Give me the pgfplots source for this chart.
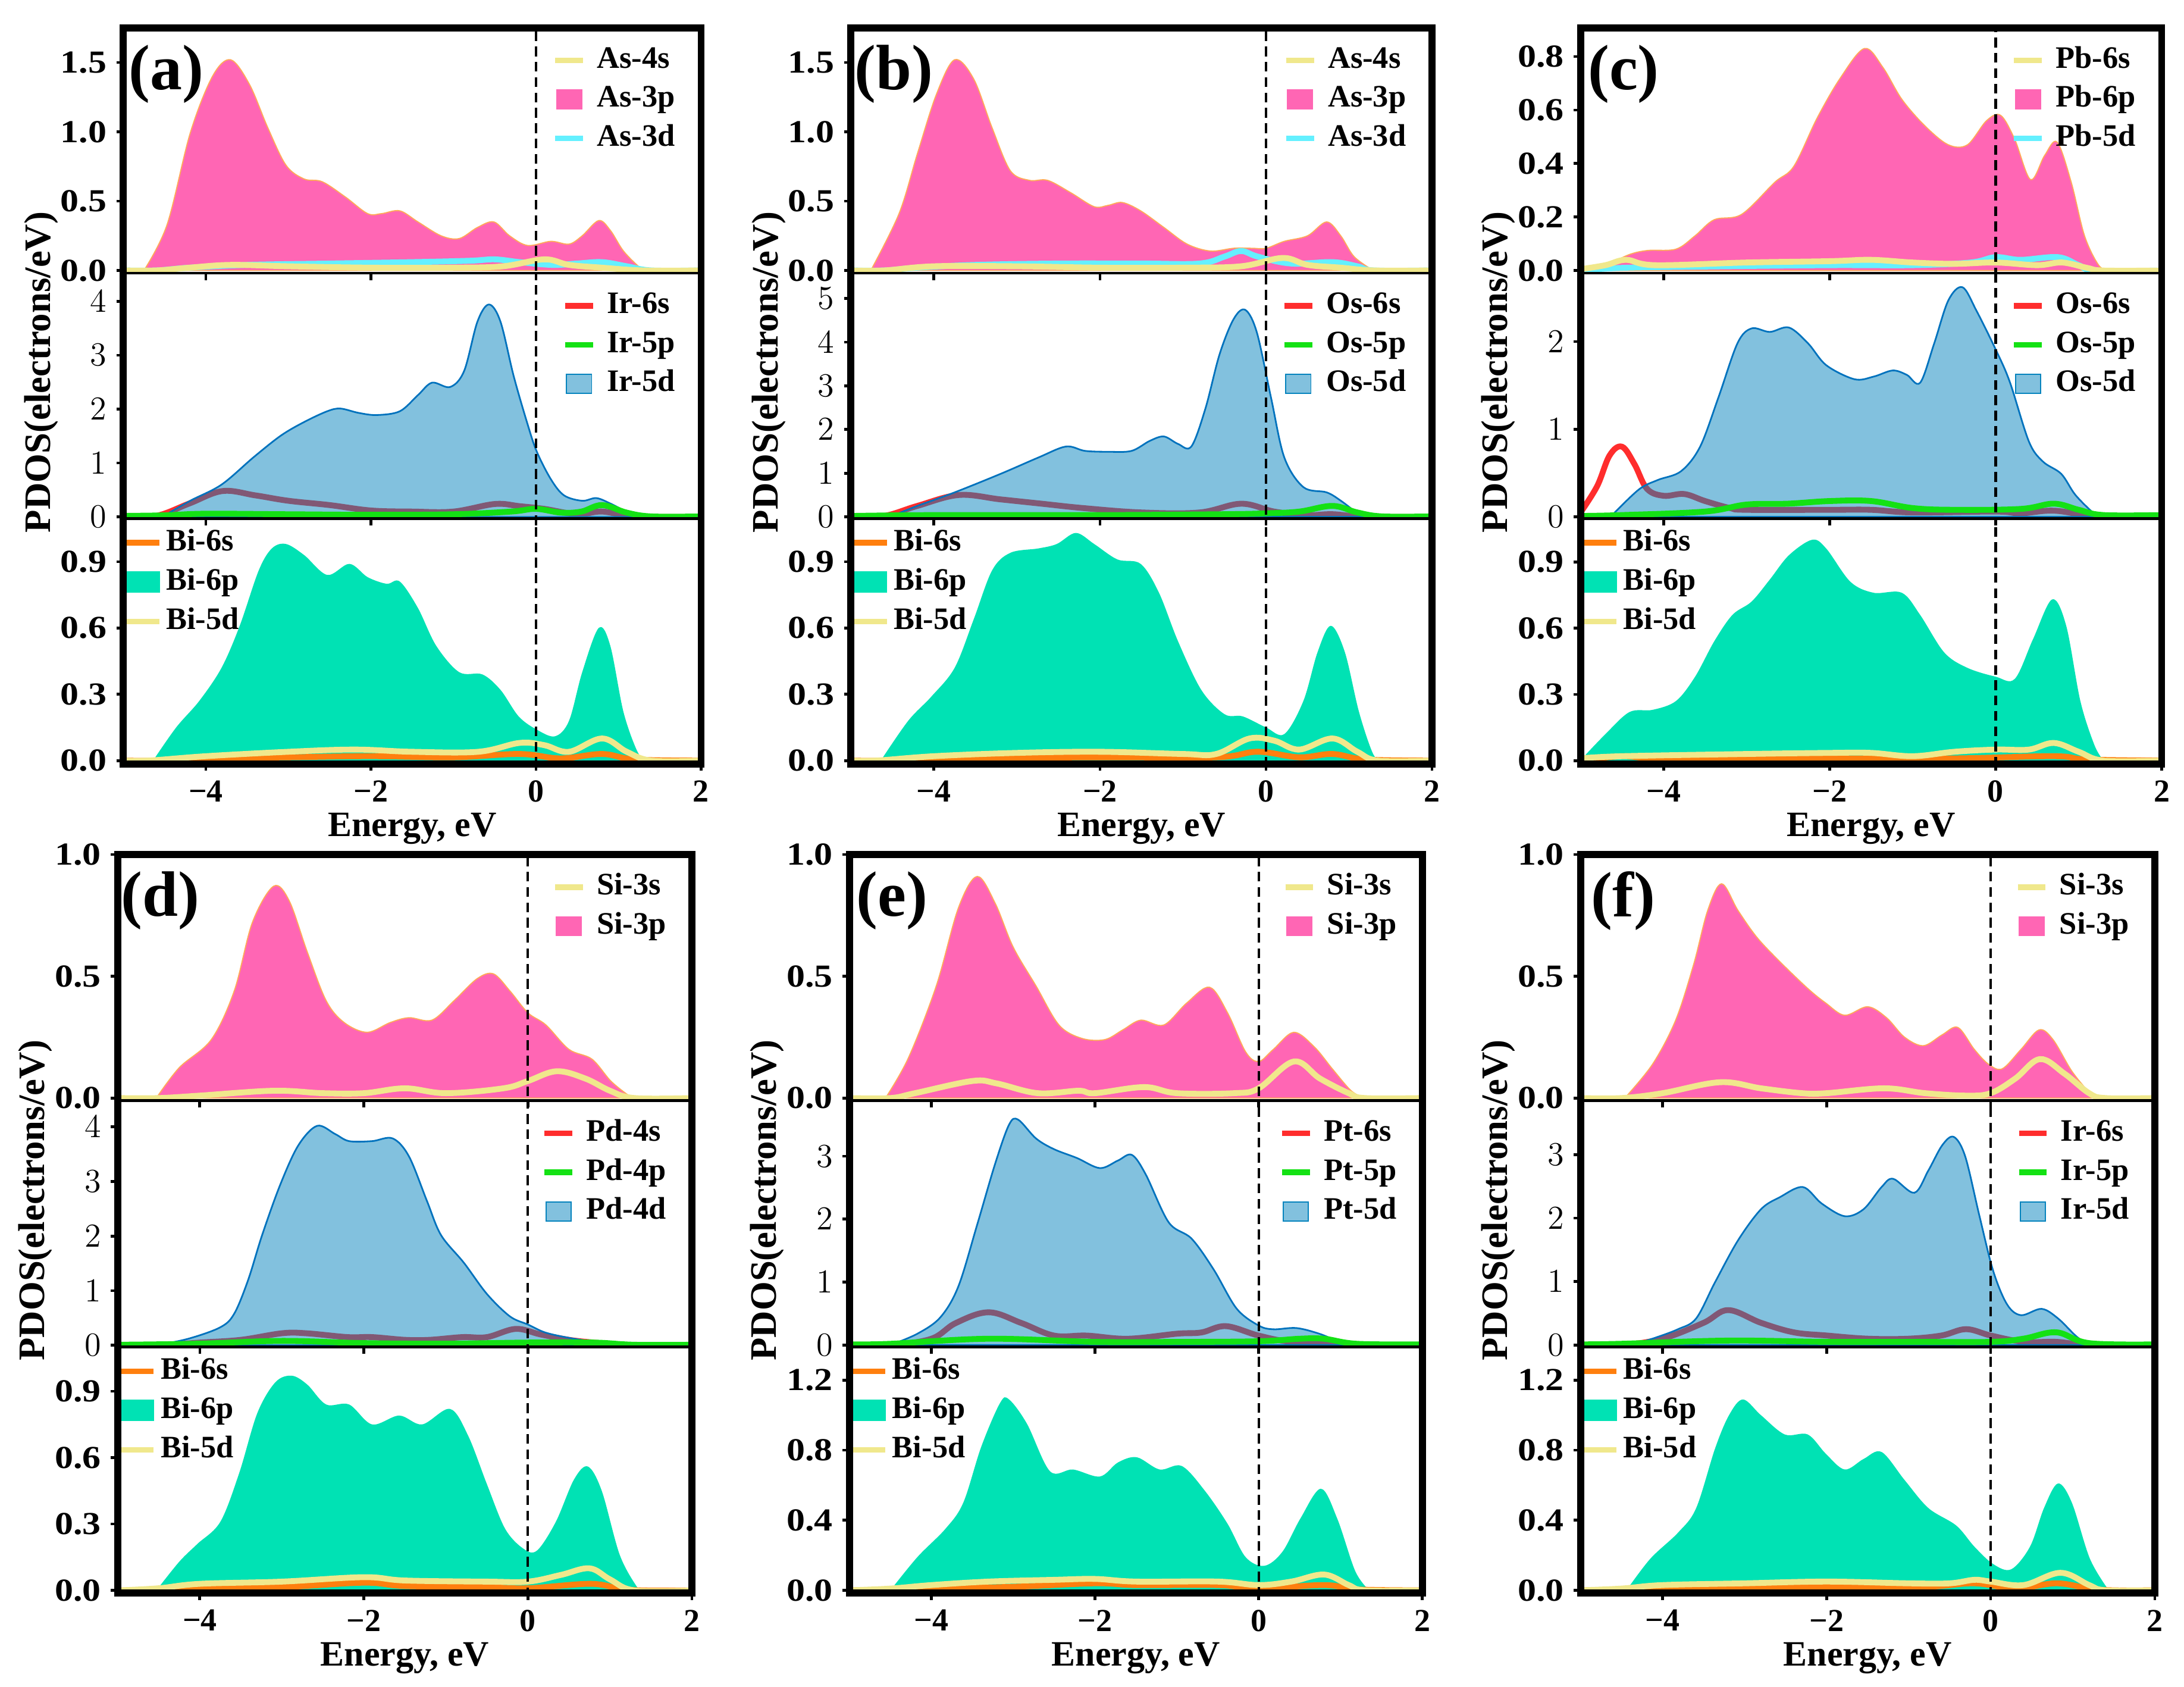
\documentclass[border=0pt]{standalone}
\usepackage{pgfplots}
\pgfplotsset{compat=1.18}
\usepackage{fontspec}
\setmainfont{Liberation Serif}
\newfontfamily\ytickfam{Liberation Serif}[FakeStretch=1.15]
\definecolor{cpink}{RGB}{255,102,180}
\definecolor{cpinkedge}{RGB}{255,170,90}
\definecolor{cblue}{RGB}{5,131,189}
\definecolor{cblueedge}{RGB}{0,114,189}
\definecolor{cgreenfill}{RGB}{0,226,180}
\definecolor{cyel}{RGB}{240,232,140}
\definecolor{ccyan}{RGB}{100,240,255}
\definecolor{cred}{RGB}{255,45,45}
\definecolor{cgrn}{RGB}{20,225,20}
\definecolor{corange}{RGB}{255,127,14}
\newcommand\tickfont{\bfseries\fontsize{11.5}{12}\selectfont}
\newcommand\ytickfont{\ytickfam\bfseries\fontsize{11.5}{12}\selectfont}
\newcommand\labfont{\bfseries\fontsize{13.4}{14}\selectfont}
\newcommand\xlabfont{\bfseries\fontsize{12.8}{13}\selectfont}
\newcommand\legfont{\bfseries\fontsize{11.2}{11.5}\selectfont}
\newcommand\panelfont{\bfseries\fontsize{23}{24}\selectfont}
\pgfplotsset{
 base/.style={scale only axis, xmin=-5, xmax=2, xtick={-4,-2,0,2}, xticklabels={},
   axis line style={line width=1pt}, major tick style={line width=1pt, black},
   major tick length=2.5pt, tick align=outside, xtick pos=bottom, ytick pos=left,
   xticklabel style={font=\tickfont}, yticklabel style={font=\ytickfont, inner sep=0.5pt, xshift=-2.8pt},
   axis on top, legend cell align=left},
 bottomax/.style={xticklabels={−4,−2,0,2}, xlabel={Energy, eV}, xlabel style={font=\xlabfont, yshift=3pt}},
 legline/.style={legend image code/.code={\draw[#1,line width=2pt] (0pt,0pt) -- (10pt,0pt);}},
 legarea/.style={legend image code/.code={\fill[#1] (0.5pt,-3.4pt) rectangle (9.5pt,3.4pt);}},
 leglineB/.style={legend image code/.code={\draw[#1,line width=2pt] (0pt,0pt) -- (12.5pt,0pt);}},
 legareaB/.style={legend image code/.code={\fill[#1] (0pt,-3.6pt) rectangle (12.5pt,3.6pt);}},
 legTR/.style={legend style={draw=none, fill=none, inner sep=0pt, at={(rel axis cs:0.961,0.935)}, anchor=north east, font=\legfont, row sep=2.5pt, column sep=3pt, nodes={text height=7.5pt, text depth=2pt, inner sep=1pt}}},
 legTL/.style={legend style={draw=none, fill=none, inner sep=0pt, at={(rel axis cs:-0.004,0.969)}, anchor=north west, font=\legfont, row sep=2.6pt, column sep=0.5pt, nodes={text height=7.5pt, text depth=2pt, inner sep=1pt}}},
 pinkfill/.style={fill=cpink, draw=cpinkedge, line width=0.4pt, smooth, tension=0.55, forget plot},
 bluefill/.style={fill=cblue, fill opacity=0.5, draw=cblueedge, draw opacity=1, line width=0.6pt, smooth, tension=0.55, forget plot},
 greenfill/.style={fill=cgreenfill, draw=none, smooth, tension=0.55, forget plot},
 pline/.style={line width=2.1pt, smooth, tension=0.6, forget plot},
 dashline/.style={black, line width=0.9pt, dash pattern=on 3.5pt off 2pt, forget plot},
}
\begin{document}
\begin{tikzpicture}
\useasboundingbox (0pt,0pt) rectangle (783.5pt,605pt);
%================ (a) =================
\begin{axis}[base, name=a1, at={(44.25pt,595pt)}, anchor=north west, width=207.25pt, height=88pt,
  ymin=-0.02, ymax=1.75, ytick={0,0.5,1,1.5}, yticklabels={0.0,0.5,1.0,1.5}, legTR]
\addlegendimage{legline=cyel}\addlegendentry{As-4s}
\addlegendimage{legarea=cpink}\addlegendentry{As-3p}
\addlegendimage{legline=ccyan}\addlegendentry{As-3d}
\addplot[pinkfill] coordinates {(-4.75,0) (-4.47,0.33) (-4.19,0.99) (-3.92,1.40) (-3.70,1.52) (-3.47,1.34) (-3.25,1.03) (-3.03,0.76) (-2.81,0.66) (-2.59,0.64) (-2.31,0.53) (-2.04,0.41) (-1.87,0.41) (-1.65,0.43) (-1.43,0.35) (-1.15,0.25) (-0.93,0.23) (-0.71,0.31) (-0.51,0.35) (-0.32,0.25) (-0.10,0.18) (0.18,0.21) (0.40,0.19) (0.56,0.25) (0.76,0.36) (0.90,0.29) (1.06,0.14) (1.26,0.02) (1.34,0)} \closedcycle;
\addplot[pline, ccyan] coordinates {(-5,0) (-4.6,0) (-4.2,0.02) (-3.5,0.04) (-2.5,0.05) (-1.5,0.06) (-0.8,0.07) (-0.5,0.08) (-0.2,0.06) (0.2,0.04) (0.5,0.05) (0.8,0.06) (1.1,0.03) (1.4,0) (2,0)};
\addplot[pline, cyel] coordinates {(-5,0) (-4.6,0) (-4.2,0.02) (-3.7,0.04) (-3,0.03) (-2,0.02) (-1,0.02) (-0.4,0.03) (0.1,0.08) (0.4,0.04) (0.8,0.02) (1.3,0) (2,0)};
\addplot[dashline] coordinates {(0,-1) (0,10)};
\node[font=\panelfont] at (rel axis cs:0.074,0.8125) {(a)};
\end{axis}
\begin{axis}[base, name=a2, at={(44.25pt,507pt)}, anchor=north west, width=207.25pt, height=88pt,
  ymin=-0.03, ymax=4.52, ytick={0,1,2,3,4}, legTR]
\addlegendimage{legline=cred}\addlegendentry{Ir-6s}
\addlegendimage{legline=cgrn}\addlegendentry{Ir-5p}
\addlegendimage{legarea={cblue,fill opacity=0.5}}\addlegendentry{Ir-5d}
\addplot[pline, cred] coordinates {(-5,0) (-4.6,0.02) (-4.2,0.25) (-3.8,0.48) (-3.4,0.4) (-3.0,0.3) (-2.5,0.22) (-2.0,0.12) (-1.5,0.1) (-1.0,0.1) (-0.5,0.24) (-0.2,0.2) (0.1,0.15) (0.5,0.05) (0.8,0.1) (1.2,0.01) (2,0)};
\addplot[bluefill] coordinates {(-4.53,0) (-4.19,0.30) (-3.81,0.60) (-3.42,1.11) (-3.09,1.51) (-2.81,1.76) (-2.53,1.96) (-2.37,2.01) (-2.15,1.93) (-1.93,1.89) (-1.65,1.96) (-1.43,2.26) (-1.26,2.49) (-1.04,2.41) (-0.87,2.71) (-0.71,3.62) (-0.57,3.94) (-0.43,3.62) (-0.27,2.61) (-0.10,1.71) (0.01,1.21) (0.18,0.70) (0.34,0.40) (0.56,0.30) (0.73,0.35) (0.90,0.25) (1.12,0.08) (1.28,0)} \closedcycle;
\addplot[pline, cgrn] coordinates {(-5,0.02) (-4.5,0.03) (-4,0.06) (-3,0.05) (-2,0.04) (-1,0.05) (-0.3,0.1) (0,0.15) (0.3,0.08) (0.55,0.1) (0.8,0.22) (1.1,0.08) (1.4,0.01) (2,0.01)};
\addplot[dashline] coordinates {(0,-1) (0,10)};
\end{axis}
\begin{axis}[base, bottomax, name=a3, at={(44.25pt,419pt)}, anchor=north west, width=207.25pt, height=88pt,
  ymin=-0.015, ymax=1.095, ytick={0,0.3,0.6,0.9}, yticklabels={0.0,0.3,0.6,0.9}, legTL]
\addlegendimage{leglineB=corange}\addlegendentry{Bi-6s}
\addlegendimage{legareaB=cgreenfill}\addlegendentry{Bi-6p}
\addlegendimage{leglineB=cyel}\addlegendentry{Bi-5d}
\addplot[greenfill] coordinates {(-4.64,0) (-4.36,0.15) (-4.08,0.27) (-3.81,0.42) (-3.59,0.61) (-3.36,0.86) (-3.20,0.96) (-3.03,0.98) (-2.81,0.93) (-2.53,0.84) (-2.26,0.89) (-2.04,0.83) (-1.81,0.80) (-1.65,0.81) (-1.43,0.69) (-1.21,0.52) (-0.93,0.40) (-0.65,0.39) (-0.43,0.32) (-0.21,0.20) (0.01,0.14) (0.23,0.11) (0.40,0.18) (0.56,0.40) (0.76,0.60) (0.90,0.52) (1.06,0.22) (1.23,0.04) (1.34,0)} \closedcycle;
\addplot[pline, corange] coordinates {(-5,0) (-4.6,0) (-4,0.01) (-3,0.015) (-2,0.02) (-1,0.015) (-0.2,0.03) (0.3,0.01) (0.8,0.03) (1.2,0.005) (2,0)};
\addplot[pline, cyel] coordinates {(-5,0) (-4.7,0) (-4,0.02) (-3,0.04) (-2.2,0.05) (-1.5,0.04) (-0.7,0.04) (-0.2,0.08) (0.1,0.07) (0.4,0.04) (0.8,0.1) (1.1,0.04) (1.4,0) (2,0)};
\addplot[dashline] coordinates {(0,-1) (0,10)};
\end{axis}
\draw[line width=2.5pt] (a1.north west) rectangle (a3.south east);
\node[rotate=90, font=\labfont] at ([xshift=-29.5pt,yshift=8.5pt]a2.west) {PDOS(electrons/eV)};
%================ (b) =================
\begin{axis}[base, name=b1, at={(305.25pt,595pt)}, anchor=north west, width=208.5pt, height=88pt,
  ymin=-0.02, ymax=1.75, ytick={0,0.5,1,1.5}, yticklabels={0.0,0.5,1.0,1.5}, legTR]
\addlegendimage{legline=cyel}\addlegendentry{As-4s}
\addlegendimage{legarea=cpink}\addlegendentry{As-3p}
\addlegendimage{legline=ccyan}\addlegendentry{As-3d}
\addplot[pinkfill] coordinates {(-4.76,0) (-4.42,0.41) (-4.20,0.84) (-3.97,1.27) (-3.75,1.52) (-3.52,1.38) (-3.30,1.03) (-3.08,0.72) (-2.85,0.65) (-2.63,0.65) (-2.35,0.56) (-2.07,0.46) (-1.90,0.47) (-1.73,0.49) (-1.51,0.43) (-1.23,0.31) (-0.95,0.19) (-0.67,0.14) (-0.39,0.16) (-0.17,0.16) (0,0.16) (0.22,0.21) (0.50,0.25) (0.73,0.35) (0.90,0.25) (1.06,0.10) (1.29,0)} \closedcycle;
\addplot[pline, ccyan] coordinates {(-5,0) (-4.6,0) (-4.2,0.02) (-3.5,0.04) (-2.5,0.05) (-1.5,0.05) (-0.8,0.05) (-0.5,0.1) (-0.3,0.14) (-0.1,0.1) (0.3,0.05) (0.8,0.06) (1.1,0.03) (1.3,0) (2,0)};
\addplot[pline, cyel] coordinates {(-5,0) (-4.6,0) (-4,0.03) (-3,0.03) (-2,0.02) (-1,0.02) (-0.3,0.03) (0.2,0.09) (0.5,0.04) (0.9,0.02) (1.3,0) (2,0)};
\addplot[dashline] coordinates {(0,-1) (0,10)};
\node[font=\panelfont] at (rel axis cs:0.074,0.8125) {(b)};
\end{axis}
\begin{axis}[base, name=b2, at={(305.25pt,507pt)}, anchor=north west, width=208.5pt, height=88pt,
  ymin=-0.04, ymax=5.58, ytick={0,1,2,3,4,5}, legTR]
\addlegendimage{legline=cred}\addlegendentry{Os-6s}
\addlegendimage{legline=cgrn}\addlegendentry{Os-5p}
\addlegendimage{legarea={cblue,fill opacity=0.5}}\addlegendentry{Os-5d}
\addplot[pline, cred] coordinates {(-5,0) (-4.6,0.02) (-4.2,0.25) (-3.7,0.5) (-3.2,0.4) (-2.7,0.3) (-2.2,0.2) (-1.5,0.1) (-0.8,0.1) (-0.3,0.3) (0.1,0.12) (0.5,0.04) (0.8,0.06) (1.2,0) (2,0)};
\addplot[bluefill] coordinates {(-4.53,0) (-4.20,0.25) (-3.75,0.56) (-3.19,0.99) (-2.74,1.36) (-2.41,1.61) (-2.18,1.51) (-1.90,1.49) (-1.62,1.51) (-1.40,1.74) (-1.23,1.84) (-1.06,1.67) (-0.90,1.61) (-0.73,2.48) (-0.56,3.72) (-0.39,4.53) (-0.25,4.74) (-0.11,4.22) (0.06,2.73) (0.22,1.36) (0.45,0.68) (0.73,0.56) (0.90,0.37) (1.12,0.06) (1.23,0)} \closedcycle;
\addplot[pline, cgrn] coordinates {(-5,0.02) (-4,0.04) (-2,0.04) (-0.5,0.06) (0,0.08) (0.4,0.12) (0.8,0.25) (1.1,0.1) (1.4,0.01) (2,0.01)};
\addplot[dashline] coordinates {(0,-1) (0,10)};
\end{axis}
\begin{axis}[base, bottomax, name=b3, at={(305.25pt,419pt)}, anchor=north west, width=208.5pt, height=88pt,
  ymin=-0.015, ymax=1.095, ytick={0,0.3,0.6,0.9}, yticklabels={0.0,0.3,0.6,0.9}, legTL]
\addlegendimage{leglineB=corange}\addlegendentry{Bi-6s}
\addlegendimage{legareaB=cgreenfill}\addlegendentry{Bi-6p}
\addlegendimage{leglineB=cyel}\addlegendentry{Bi-5d}
\addplot[greenfill] coordinates {(-4.64,0) (-4.31,0.18) (-4.03,0.29) (-3.75,0.42) (-3.52,0.64) (-3.30,0.86) (-3.08,0.94) (-2.74,0.96) (-2.52,0.98) (-2.29,1.03) (-2.07,0.98) (-1.79,0.91) (-1.51,0.89) (-1.29,0.76) (-1.06,0.54) (-0.78,0.32) (-0.50,0.21) (-0.28,0.20) (0,0.15) (0.22,0.12) (0.45,0.27) (0.62,0.49) (0.78,0.61) (0.95,0.49) (1.12,0.22) (1.29,0.03) (1.40,0)} \closedcycle;
\addplot[pline, corange] coordinates {(-5,0) (-4.6,0) (-4,0.01) (-2,0.015) (-0.6,0.015) (-0.1,0.04) (0.4,0.015) (0.8,0.03) (1.2,0.005) (2,0)};
\addplot[pline, cyel] coordinates {(-5,0) (-4.7,0) (-4,0.02) (-3,0.035) (-2,0.04) (-1,0.03) (-0.6,0.03) (-0.2,0.1) (0.1,0.09) (0.4,0.05) (0.8,0.1) (1.1,0.04) (1.35,0) (2,0)};
\addplot[dashline] coordinates {(0,-1) (0,10)};
\end{axis}
\draw[line width=2.5pt] (b1.north west) rectangle (b3.south east);
\node[rotate=90, font=\labfont] at ([xshift=-29.5pt,yshift=8.5pt]b2.west) {PDOS(electrons/eV)};
%================ (c) =================
\begin{axis}[base, name=c1, at={(567pt,595pt)}, anchor=north west, width=208.5pt, height=88pt,
  ymin=-0.01, ymax=0.907, ytick={0,0.2,0.4,0.6,0.8}, yticklabels={0.0,0.2,0.4,0.6,0.8}, legTR]
\addlegendimage{legline=cyel}\addlegendentry{Pb-6s}
\addlegendimage{legarea=cpink}\addlegendentry{Pb-6p}
\addlegendimage{legline=ccyan}\addlegendentry{Pb-5d}
\addplot[pinkfill] coordinates {(-4.98,0) (-4.70,0.02) (-4.41,0.06) (-4.19,0.075) (-3.85,0.08) (-3.62,0.13) (-3.39,0.19) (-3.06,0.21) (-2.66,0.33) (-2.43,0.39) (-2.15,0.57) (-1.87,0.72) (-1.58,0.83) (-1.36,0.76) (-1.13,0.64) (-0.85,0.54) (-0.57,0.47) (-0.34,0.47) (-0.11,0.56) (0.06,0.58) (0.23,0.49) (0.42,0.34) (0.59,0.43) (0.74,0.48) (0.91,0.33) (1.07,0.13) (1.24,0.02) (1.36,0)} \closedcycle;
\addplot[pline, ccyan] coordinates {(-5,0) (-4.5,0.01) (-3.5,0.015) (-2,0.02) (-1,0.02) (-0.3,0.03) (0,0.05) (0.3,0.04) (0.75,0.05) (1.0,0.02) (1.2,0) (2,0)};
\addplot[pline, cyel] coordinates {(-5,0.005) (-4.7,0.02) (-4.45,0.04) (-4.1,0.02) (-3,0.03) (-2,0.035) (-1.5,0.04) (-1,0.03) (-0.5,0.025) (0,0.03) (0.5,0.02) (0.8,0.03) (1.1,0.01) (1.3,0) (2,0)};
\addplot[dashline] coordinates {(0,-1) (0,10)};
\node[font=\panelfont] at (rel axis cs:0.074,0.8125) {(c)};
\end{axis}
\begin{axis}[base, name=c2, at={(567pt,507pt)}, anchor=north west, width=208.5pt, height=88pt,
  ymin=-0.02, ymax=2.78, ytick={0,1,2}, legTR]
\addlegendimage{legline=cred}\addlegendentry{Os-6s}
\addlegendimage{legline=cgrn}\addlegendentry{Os-5p}
\addlegendimage{legarea={cblue,fill opacity=0.5}}\addlegendentry{Os-5d}
\addplot[pline, cred] coordinates {(-5,0.05) (-4.8,0.35) (-4.65,0.7) (-4.5,0.8) (-4.35,0.6) (-4.2,0.32) (-4.0,0.24) (-3.75,0.26) (-3.5,0.18) (-3.2,0.1) (-3,0.08) (-2,0.08) (-1.5,0.08) (-1,0.05) (0,0.06) (0.3,0.04) (0.7,0.07) (1.2,0.01) (2,0)};
\addplot[bluefill] coordinates {(-4.64,0) (-4.30,0.31) (-4.07,0.42) (-3.79,0.52) (-3.56,0.80) (-3.34,1.36) (-3.11,1.98) (-2.94,2.15) (-2.72,2.11) (-2.49,2.16) (-2.26,1.98) (-2.04,1.73) (-1.70,1.57) (-1.47,1.60) (-1.24,1.67) (-1.07,1.62) (-0.91,1.53) (-0.74,1.98) (-0.57,2.47) (-0.40,2.62) (-0.23,2.35) (0,1.91) (0.17,1.54) (0.40,0.86) (0.57,0.63) (0.79,0.49) (0.96,0.25) (1.19,0.03) (1.24,0)} \closedcycle;
\addplot[pline, cgrn] coordinates {(-5,0.01) (-4.5,0.02) (-3.5,0.06) (-3.0,0.14) (-2.5,0.15) (-2,0.18) (-1.5,0.18) (-1,0.1) (-0.5,0.08) (0.3,0.09) (0.7,0.15) (1.0,0.08) (1.3,0.02) (2,0.02)};
\addplot[dashline] coordinates {(0,-1) (0,10)};
\end{axis}
\begin{axis}[base, bottomax, name=c3, at={(567pt,419pt)}, anchor=north west, width=208.5pt, height=88pt,
  ymin=-0.015, ymax=1.096, ytick={0,0.3,0.6,0.9}, yticklabels={0.0,0.3,0.6,0.9}, legTL]
\addlegendimage{leglineB=corange}\addlegendentry{Bi-6s}
\addlegendimage{legareaB=cgreenfill}\addlegendentry{Bi-6p}
\addlegendimage{leglineB=cyel}\addlegendentry{Bi-5d}
\addplot[greenfill] coordinates {(-5,0) (-4.98,0.01) (-4.70,0.12) (-4.41,0.22) (-4.13,0.23) (-3.85,0.27) (-3.62,0.38) (-3.39,0.54) (-3.17,0.66) (-2.94,0.72) (-2.72,0.82) (-2.49,0.93) (-2.21,1.00) (-2.04,0.96) (-1.75,0.81) (-1.47,0.76) (-1.13,0.76) (-0.91,0.66) (-0.62,0.49) (-0.34,0.42) (0,0.38) (0.23,0.37) (0.45,0.55) (0.68,0.73) (0.85,0.61) (1.02,0.27) (1.19,0.07) (1.30,0)} \closedcycle;
\addplot[pline, corange] coordinates {(-5,0) (-4.5,0.02) (-4,0.01) (-2,0.01) (-0.5,0.01) (0.7,0.02) (1.1,0.005) (2,0)};
\addplot[pline, cyel] coordinates {(-5,0.01) (-4.5,0.02) (-3,0.03) (-2,0.035) (-1.5,0.035) (-1,0.02) (-0.5,0.04) (0,0.05) (0.4,0.05) (0.7,0.08) (1.0,0.04) (1.3,0) (2,0)};
\addplot[dashline] coordinates {(0,-1) (0,10)};
\end{axis}
\draw[line width=2.5pt] (c1.north west) rectangle (c3.south east);
\node[rotate=90, font=\labfont] at ([xshift=-29.5pt,yshift=8.5pt]c2.west) {PDOS(electrons/eV)};
%================ (d) =================
\begin{axis}[base, name=d1, at={(42.25pt,298.5pt)}, anchor=north west, width=206pt, height=88.3pt,
  ymin=-0.011, ymax=1.0, ytick={0,0.5,1}, yticklabels={0.0,0.5,1.0}, legTR]
\addlegendimage{legline=cyel}\addlegendentry{Si-3s}
\addlegendimage{legarea=cpink}\addlegendentry{Si-3p}
\addplot[pinkfill] coordinates {(-4.53,0) (-4.25,0.125) (-3.86,0.24) (-3.58,0.44) (-3.36,0.72) (-3.10,0.87) (-2.91,0.81) (-2.69,0.60) (-2.46,0.40) (-2.24,0.31) (-1.96,0.27) (-1.68,0.31) (-1.45,0.33) (-1.17,0.32) (-0.90,0.40) (-0.62,0.49) (-0.42,0.51) (-0.22,0.44) (0,0.35) (0.22,0.30) (0.50,0.20) (0.78,0.16) (1.01,0.07) (1.23,0.01) (1.30,0)} \closedcycle;
\addplot[pline, cyel] coordinates {(-5,0) (-4.5,0) (-4,0.01) (-3.1,0.03) (-2.5,0.02) (-2,0.02) (-1.5,0.04) (-1,0.02) (-0.3,0.04) (0,0.07) (0.35,0.11) (0.7,0.08) (1.0,0.03) (1.3,0) (2,0)};
\addplot[dashline] coordinates {(0,-1) (0,10)};
\node[font=\panelfont] at (rel axis cs:0.074,0.8125) {(d)};
\end{axis}
\begin{axis}[base, name=d2, at={(42.25pt,210.2pt)}, anchor=north west, width=206pt, height=88.3pt,
  ymin=-0.03, ymax=4.48, ytick={0,1,2,3,4}, legTR]
\addlegendimage{legline=cred}\addlegendentry{Pd-4s}
\addlegendimage{legline=cgrn}\addlegendentry{Pd-4p}
\addlegendimage{legarea={cblue,fill opacity=0.5}}\addlegendentry{Pd-4d}
\addplot[pline, cred] coordinates {(-5,0) (-4.5,0) (-4,0.05) (-3.5,0.1) (-3,0.22) (-2.7,0.22) (-2.2,0.15) (-1.9,0.15) (-1.5,0.1) (-1.2,0.1) (-0.8,0.15) (-0.5,0.15) (-0.15,0.3) (0.15,0.2) (0.5,0.1) (0.8,0.05) (1.2,0) (2,0)};
\addplot[bluefill] coordinates {(-4.53,0) (-4.14,0.12) (-3.75,0.33) (-3.58,0.58) (-3.41,1.20) (-3.24,2.02) (-3.02,2.94) (-2.80,3.66) (-2.57,4.02) (-2.35,3.87) (-2.18,3.74) (-1.90,3.74) (-1.65,3.79) (-1.45,3.46) (-1.23,2.64) (-1.06,2.02) (-0.78,1.51) (-0.50,0.94) (-0.22,0.53) (0,0.38) (0.22,0.23) (0.56,0.12) (0.90,0.05) (1.17,0)} \closedcycle;
\addplot[pline, cgrn] coordinates {(-5,0.01) (-4,0.03) (-3,0.08) (-2,0.04) (-1,0.03) (0,0.05) (0.8,0.05) (1.3,0.01) (2,0.01)};
\addplot[dashline] coordinates {(0,-1) (0,10)};
\end{axis}
\begin{axis}[base, bottomax, name=d3, at={(42.25pt,121.9pt)}, anchor=north west, width=206pt, height=88.3pt,
  ymin=-0.012, ymax=1.10, ytick={0,0.3,0.6,0.9}, yticklabels={0.0,0.3,0.6,0.9}, legTL]
\addlegendimage{leglineB=corange}\addlegendentry{Bi-6s}
\addlegendimage{legareaB=cgreenfill}\addlegendentry{Bi-6p}
\addlegendimage{leglineB=cyel}\addlegendentry{Bi-5d}
\addplot[greenfill] coordinates {(-4.53,0) (-4.25,0.13) (-4.03,0.21) (-3.75,0.31) (-3.52,0.53) (-3.30,0.80) (-3.08,0.94) (-2.88,0.97) (-2.69,0.93) (-2.46,0.84) (-2.18,0.84) (-1.90,0.75) (-1.57,0.79) (-1.29,0.75) (-0.95,0.82) (-0.73,0.70) (-0.50,0.48) (-0.28,0.28) (-0.06,0.19) (0.11,0.18) (0.34,0.31) (0.56,0.50) (0.73,0.56) (0.90,0.45) (1.12,0.16) (1.34,0.01) (1.40,0)} \closedcycle;
\addplot[pline, corange] coordinates {(-5,0) (-4.5,0) (-4,0.01) (-3,0.015) (-2,0.035) (-1.5,0.02) (-0.5,0.015) (0,0.01) (0.75,0.03) (1.1,0.01) (1.4,0) (2,0)};
\addplot[pline, cyel] coordinates {(-5,0) (-4.5,0.01) (-4,0.03) (-3,0.04) (-2,0.06) (-1.5,0.045) (-0.5,0.04) (0,0.04) (0.4,0.07) (0.75,0.1) (1.0,0.05) (1.3,0) (2,0)};
\addplot[dashline] coordinates {(0,-1) (0,10)};
\end{axis}
\draw[line width=2.5pt] (d1.north west) rectangle (d3.south east);
\node[rotate=90, font=\labfont] at ([xshift=-29.5pt,yshift=8.5pt]d2.west) {PDOS(electrons/eV)};
%================ (e) =================
\begin{axis}[base, name=e1, at={(304.75pt,298.5pt)}, anchor=north west, width=205.5pt, height=88.3pt,
  ymin=-0.011, ymax=1.0, ytick={0,0.5,1}, yticklabels={0.0,0.5,1.0}, legTR]
\addlegendimage{legline=cyel}\addlegendentry{Si-3s}
\addlegendimage{legarea=cpink}\addlegendentry{Si-3p}
\addplot[pinkfill] coordinates {(-4.56,0) (-4.28,0.165) (-3.94,0.46) (-3.67,0.78) (-3.44,0.91) (-3.22,0.80) (-3.00,0.62) (-2.72,0.46) (-2.44,0.30) (-2.16,0.245) (-1.88,0.24) (-1.66,0.28) (-1.44,0.32) (-1.16,0.30) (-0.88,0.39) (-0.60,0.455) (-0.38,0.35) (-0.16,0.19) (0,0.15) (0.18,0.20) (0.43,0.27) (0.68,0.21) (0.90,0.12) (1.13,0.03) (1.29,0)} \closedcycle;
\addplot[pline, cyel] coordinates {(-5,0) (-4.5,0) (-4.2,0.02) (-3.5,0.07) (-3.2,0.06) (-2.7,0.02) (-2.2,0.03) (-2,0.02) (-1.4,0.045) (-1,0.02) (-0.3,0.02) (0,0.04) (0.43,0.15) (0.75,0.08) (1.1,0.02) (1.3,0) (2,0)};
\addplot[dashline] coordinates {(0,-1) (0,10)};
\node[font=\panelfont] at (rel axis cs:0.074,0.8125) {(e)};
\end{axis}
\begin{axis}[base, name=e2, at={(304.75pt,210.2pt)}, anchor=north west, width=205.5pt, height=88.3pt,
  ymin=-0.03, ymax=3.88, ytick={0,1,2,3}, legTR]
\addlegendimage{legline=cred}\addlegendentry{Pt-6s}
\addlegendimage{legline=cgrn}\addlegendentry{Pt-5p}
\addlegendimage{legarea={cblue,fill opacity=0.5}}\addlegendentry{Pt-5d}
\addplot[pline, cred] coordinates {(-5,0) (-4.5,0) (-4,0.1) (-3.7,0.35) (-3.3,0.52) (-2.9,0.35) (-2.5,0.15) (-2.1,0.15) (-1.6,0.1) (-1.0,0.18) (-0.7,0.2) (-0.4,0.3) (0,0.15) (0.4,0.05) (1.0,0.02) (1.3,0) (2,0)};
\addplot[bluefill] coordinates {(-4.50,0) (-4.17,0.18) (-3.89,0.44) (-3.67,0.93) (-3.44,1.91) (-3.22,2.88) (-3.05,3.50) (-2.94,3.58) (-2.72,3.28) (-2.50,3.11) (-2.22,2.97) (-1.94,2.81) (-1.72,2.93) (-1.55,3.02) (-1.38,2.71) (-1.10,1.95) (-0.82,1.69) (-0.55,1.20) (-0.27,0.58) (0,0.31) (0.18,0.25) (0.46,0.27) (0.74,0.18) (1.01,0.04) (1.17,0)} \closedcycle;
\addplot[pline, cgrn] coordinates {(-5,0.01) (-4.5,0.02) (-3.3,0.1) (-2,0.05) (-1,0.05) (0,0.06) (0.5,0.1) (0.8,0.1) (1.2,0.02) (2,0.01)};
\addplot[dashline] coordinates {(0,-1) (0,10)};
\end{axis}
\begin{axis}[base, bottomax, name=e3, at={(304.75pt,121.9pt)}, anchor=north west, width=205.5pt, height=88.3pt,
  ymin=-0.016, ymax=1.39, ytick={0,0.4,0.8,1.2}, yticklabels={0.0,0.4,0.8,1.2}, legTL]
\addlegendimage{leglineB=corange}\addlegendentry{Bi-6s}
\addlegendimage{legareaB=cgreenfill}\addlegendentry{Bi-6p}
\addlegendimage{leglineB=cyel}\addlegendentry{Bi-5d}
\addplot[greenfill] coordinates {(-4.50,0) (-4.17,0.19) (-3.83,0.35) (-3.61,0.50) (-3.39,0.82) (-3.16,1.07) (-3.05,1.09) (-2.83,0.95) (-2.55,0.68) (-2.27,0.69) (-1.94,0.65) (-1.72,0.73) (-1.49,0.76) (-1.21,0.69) (-0.94,0.71) (-0.66,0.57) (-0.38,0.38) (-0.16,0.19) (0.07,0.14) (0.29,0.22) (0.51,0.41) (0.76,0.58) (0.96,0.41) (1.18,0.11) (1.35,0)} \closedcycle;
\addplot[pline, corange] coordinates {(-5,0) (-4.5,0) (-4,0.01) (-3,0.02) (-2,0.04) (-1.5,0.03) (-0.5,0.03) (0,0.01) (0.8,0.03) (1.2,0.005) (2,0)};
\addplot[pline, cyel] coordinates {(-5,0) (-4.5,0.01) (-4,0.03) (-3.3,0.05) (-2.5,0.06) (-2,0.065) (-1.5,0.05) (-0.5,0.05) (0,0.03) (0.4,0.05) (0.8,0.09) (1.1,0.03) (1.3,0) (2,0)};
\addplot[dashline] coordinates {(0,-1) (0,10)};
\end{axis}
\draw[line width=2.5pt] (e1.north west) rectangle (e3.south east);
\node[rotate=90, font=\labfont] at ([xshift=-29.5pt,yshift=8.5pt]e2.west) {PDOS(electrons/eV)};
%================ (f) =================
\begin{axis}[base, name=f1, at={(567pt,298.5pt)}, anchor=north west, width=206pt, height=88.3pt,
  ymin=-0.011, ymax=1.0, ytick={0,0.5,1}, yticklabels={0.0,0.5,1.0}, legTR]
\addlegendimage{legline=cyel}\addlegendentry{Si-3s}
\addlegendimage{legarea=cpink}\addlegendentry{Si-3p}
\addplot[pinkfill] coordinates {(-4.46,0) (-4.12,0.14) (-3.84,0.32) (-3.62,0.55) (-3.45,0.77) (-3.28,0.88) (-3.08,0.77) (-2.85,0.66) (-2.57,0.56) (-2.23,0.45) (-2.01,0.39) (-1.78,0.34) (-1.50,0.375) (-1.27,0.33) (-1.05,0.25) (-0.82,0.215) (-0.59,0.26) (-0.40,0.29) (-0.20,0.20) (-0.03,0.14) (0.14,0.12) (0.37,0.20) (0.59,0.28) (0.76,0.24) (0.99,0.11) (1.21,0.02) (1.30,0)} \closedcycle;
\addplot[pline, cyel] coordinates {(-5,0) (-4.5,0) (-4,0.02) (-3.3,0.065) (-2.8,0.04) (-2.3,0.02) (-2,0.02) (-1.3,0.04) (-0.8,0.02) (-0.3,0.01) (0,0.02) (0.3,0.08) (0.6,0.16) (0.9,0.1) (1.2,0.02) (1.4,0) (2,0)};
\addplot[dashline] coordinates {(0,-1) (0,10)};
\node[font=\panelfont] at (rel axis cs:0.074,0.8125) {(f)};
\end{axis}
\begin{axis}[base, name=f2, at={(567pt,210.2pt)}, anchor=north west, width=206pt, height=88.3pt,
  ymin=-0.03, ymax=3.85, ytick={0,1,2,3}, legTR]
\addlegendimage{legline=cred}\addlegendentry{Ir-6s}
\addlegendimage{legline=cgrn}\addlegendentry{Ir-5p}
\addlegendimage{legarea={cblue,fill opacity=0.5}}\addlegendentry{Ir-5d}
\addplot[pline, cred] coordinates {(-5,0) (-4.5,0) (-4,0.1) (-3.5,0.35) (-3.2,0.55) (-2.8,0.35) (-2.4,0.2) (-2,0.15) (-1.5,0.1) (-1,0.1) (-0.6,0.15) (-0.3,0.25) (0,0.15) (0.4,0.05) (0.8,0.05) (1.2,0) (2,0)};
\addplot[bluefill] coordinates {(-4.38,0) (-4.10,0.11) (-3.81,0.25) (-3.59,0.42) (-3.36,0.99) (-3.08,1.65) (-2.80,2.14) (-2.57,2.33) (-2.29,2.49) (-2.06,2.23) (-1.78,2.03) (-1.55,2.14) (-1.33,2.49) (-1.19,2.62) (-0.93,2.40) (-0.76,2.75) (-0.59,3.15) (-0.45,3.28) (-0.31,2.97) (-0.14,2.05) (0.03,1.17) (0.20,0.64) (0.37,0.47) (0.62,0.57) (0.82,0.42) (1.05,0.13) (1.21,0)} \closedcycle;
\addplot[pline, cgrn] coordinates {(-5,0.01) (-4.5,0.02) (-3.2,0.07) (-2,0.05) (-1,0.05) (0,0.05) (0.4,0.1) (0.8,0.2) (1.2,0.03) (2,0.01)};
\addplot[dashline] coordinates {(0,-1) (0,10)};
\end{axis}
\begin{axis}[base, bottomax, name=f3, at={(567pt,121.9pt)}, anchor=north west, width=206pt, height=88.3pt,
  ymin=-0.016, ymax=1.39, ytick={0,0.4,0.8,1.2}, yticklabels={0.0,0.4,0.8,1.2}, legTL]
\addlegendimage{leglineB=corange}\addlegendentry{Bi-6s}
\addlegendimage{legareaB=cgreenfill}\addlegendentry{Bi-6p}
\addlegendimage{leglineB=cyel}\addlegendentry{Bi-5d}
\addplot[greenfill] coordinates {(-4.44,0) (-4.15,0.18) (-3.81,0.33) (-3.59,0.47) (-3.36,0.81) (-3.19,1.00) (-3.02,1.09) (-2.80,1.00) (-2.51,0.89) (-2.23,0.89) (-2.01,0.78) (-1.78,0.69) (-1.55,0.75) (-1.33,0.79) (-1.05,0.63) (-0.76,0.47) (-0.42,0.37) (-0.20,0.25) (0.03,0.15) (0.25,0.12) (0.48,0.25) (0.65,0.47) (0.82,0.61) (0.99,0.50) (1.21,0.18) (1.44,0)} \closedcycle;
\addplot[pline, corange] coordinates {(-5,0) (-4.5,0) (-4,0.01) (-2,0.02) (-0.8,0.02) (-0.2,0.04) (0.3,0.01) (0.8,0.04) (1.2,0.01) (1.5,0) (2,0)};
\addplot[pline, cyel] coordinates {(-5,0) (-4.5,0.01) (-4,0.03) (-3,0.04) (-2,0.05) (-1,0.04) (-0.5,0.04) (-0.2,0.06) (0,0.05) (0.4,0.03) (0.85,0.1) (1.2,0.03) (1.4,0) (2,0)};
\addplot[dashline] coordinates {(0,-1) (0,10)};
\end{axis}
\draw[line width=2.5pt] (f1.north west) rectangle (f3.south east);
\node[rotate=90, font=\labfont] at ([xshift=-29.5pt,yshift=8.5pt]f2.west) {PDOS(electrons/eV)};
\end{tikzpicture}
\end{document}
